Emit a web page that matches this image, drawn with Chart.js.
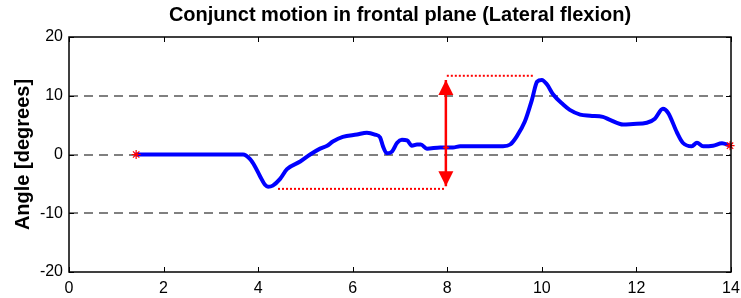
<!DOCTYPE html>
<html>
<head>
<meta charset="utf-8">
<script src="https://cdn.jsdelivr.net/npm/chart.js@4"></script>
<style>
  html, body { margin: 0; padding: 0; background: #fff; }
</style>
</head>
<body>
<canvas id="chart" width="741" height="298"></canvas>
<script>
// lateral flexion trace (time s, angle deg)
const timeS = [1.42, 2.35, 3.68, 3.83, 3.93, 4.04, 4.15, 4.21, 4.31, 4.46, 4.61, 4.89, 5.10, 5.31,
  5.46, 5.58, 5.79, 6.09, 6.30, 6.47, 6.58, 6.64, 6.72, 6.83, 6.94, 7.04, 7.15, 7.25, 7.36, 7.44,
  7.57, 7.85, 8.12, 8.27, 9.18, 9.33, 9.47, 9.64, 9.79, 9.90, 10.00, 10.11, 10.24, 10.45, 10.59,
  10.81, 11.02, 11.29, 11.44, 11.72, 11.93, 12.22, 12.39, 12.56, 12.67, 12.86, 12.98, 13.17,
  13.28, 13.41, 13.62, 13.81, 13.98];
const angleDeg = [0, 0, 0, -0.8, -2.0, -3.7, -5.2, -5.5, -5.3, -4.2, -2.5, -1.2, 0, 1.0,
  1.5, 2.2, 3.0, 3.4, 3.7, 3.4, 2.9, 1.4, 0.2, 0.5, 2.0, 2.5, 2.4, 1.5, 1.7, 1.7,
  1.0, 1.2, 1.2, 1.4, 1.4, 1.7, 3.1, 5.6, 9.3, 12.4, 12.7, 11.9, 10.2, 8.5, 7.6,
  6.8, 6.6, 6.4, 5.9, 5.1, 5.2, 5.4, 6.1, 7.8, 7.1, 3.7, 2.0, 1.4,
  2.0, 1.4, 1.5, 1.9, 1.5];

// markers: start / end stars, crossing plus
const starX = [1.42, 13.98];
const starY = [0, 1.5];
const plusX = [7.97];
const plusY = [1.2];

// range-of-motion arrow and its dotted guide lines
const arrowX = [7.97, 7.97];
const arrowY = [12.7, -5.4];
const topGuideX = [7.99, 9.81];
const topGuideY = [13.4, 13.4];
const lowGuideX = [4.42, 7.97];
const lowGuideY = [-5.85, -5.85];

const xTicks = [0, 2, 4, 6, 8, 10, 12, 14];
const yTicks = [-20, -10, 0, 10, 20];

const pts = (xs, ys) => xs.map((x, i) => ({ x: x, y: ys[i] }));
const FONT = "'Liberation Sans', Arial, Helvetica, sans-serif";

const frame = {
  id: "frame",
  afterDatasetsDraw(chart) {
    const { ctx, chartArea: a, scales } = chart;
    ctx.save();
    ctx.strokeStyle = "#000";
    ctx.lineWidth = 1.5;
    ctx.strokeRect(a.left, a.top, a.right - a.left, a.bottom - a.top);
    ctx.lineWidth = 1;
    ctx.beginPath();
    xTicks.forEach((v) => {
      const px = Math.round(scales.x.getPixelForValue(v)) + 0.5;
      ctx.moveTo(px, a.bottom); ctx.lineTo(px, a.bottom - 5);
      ctx.moveTo(px, a.top); ctx.lineTo(px, a.top + 5);
    });
    yTicks.forEach((v) => {
      const py = Math.round(scales.y.getPixelForValue(v)) + 0.5;
      ctx.moveTo(a.left, py); ctx.lineTo(a.left + 5, py);
      ctx.moveTo(a.right, py); ctx.lineTo(a.right - 5, py);
    });
    ctx.stroke();
    ctx.restore();
  },
};

const arrowHeads = {
  id: "arrowHeads",
  afterDatasetsDraw(chart) {
    const meta = chart.getDatasetMeta(2);
    if (!meta || meta.data.length < 2) return;
    const ctx = chart.ctx;
    const [p0, p1] = meta.data;
    const len = 15, half = 7.5;
    ctx.save();
    ctx.fillStyle = "#ff0000";
    [[p0, 1], [p1, -1]].forEach(([p, dir]) => {
      ctx.beginPath();
      ctx.moveTo(p.x, p.y);
      ctx.lineTo(p.x - half, p.y + dir * len);
      ctx.lineTo(p.x + half, p.y + dir * len);
      ctx.closePath();
      ctx.fill();
    });
    ctx.restore();
  },
};

new Chart(document.getElementById("chart").getContext("2d"), {
  type: "line",
  data: {
    datasets: [
      {
        label: "ends",
        data: pts(starX, starY),
        showLine: false,
        clip: false,
        pointStyle: "star",
        pointRadius: 4.5,
        pointBorderWidth: 1.2,
        pointBorderColor: "#ff0000",
        pointBackgroundColor: "#ff0000",
      },
      {
        label: "crossing",
        data: pts(plusX, plusY),
        showLine: false,
        pointStyle: "cross",
        pointRadius: 3,
        pointBorderWidth: 1.5,
        pointBorderColor: "#ff0000",
      },
      {
        label: "arrow",
        data: pts(arrowX, arrowY),
        borderColor: "#ff0000",
        borderWidth: 2.5,
        pointRadius: 0,
      },
      {
        label: "angle",
        data: pts(timeS, angleDeg),
        borderColor: "#0000ff",
        borderWidth: 4,
        pointRadius: 0,
        cubicInterpolationMode: "monotone",
        borderCapStyle: "round",
        borderJoinStyle: "round",
      },
      {
        label: "top guide",
        data: pts(topGuideX, topGuideY),
        borderColor: "#ff0000",
        borderWidth: 2,
        borderDash: [2, 2],
        pointRadius: 0,
      },
      {
        label: "low guide",
        data: pts(lowGuideX, lowGuideY),
        borderColor: "#ff0000",
        borderWidth: 2,
        borderDash: [2, 2],
        pointRadius: 0,
      },
    ],
  },
  options: {
    responsive: false,
    animation: false,
    devicePixelRatio: 1,
    layout: { padding: { left: 0, right: 10, top: 0, bottom: 0 } },
    plugins: {
      legend: { display: false },
      tooltip: { enabled: false },
      title: {
        display: true,
        text: "Conjunct motion in frontal plane (Lateral flexion)",
        color: "#000",
        fullSize: false,
        font: { family: FONT, size: 20, weight: "bold" },
        padding: { top: 3, bottom: 10 },
      },
    },
    scales: {
      x: {
        type: "linear",
        min: 0,
        max: 14,
        afterFit: (s) => { s.height = 26; s.paddingLeft = 0; s.paddingRight = 0; },
        afterBuildTicks: (s) => { s.ticks = xTicks.map((v) => ({ value: v })); },
        grid: { display: false, drawTicks: false },
        border: { display: false },
        ticks: { color: "#000", font: { family: FONT, size: 16 }, padding: 7, maxRotation: 0, autoSkip: false },
      },
      y: {
        type: "linear",
        min: -20,
        max: 20,
        afterFit: (s) => { s.width = 69; s.paddingTop = 0; s.paddingBottom = 0; },
        afterBuildTicks: (s) => { s.ticks = yTicks.map((v) => ({ value: v })); },
        grid: {
          drawTicks: false,
          lineWidth: 2,
          color: (c) => (c.tick && Math.abs(c.tick.value) === 20 ? "rgba(0,0,0,0)" : "#808080"),
        },
        border: { display: false, dash: [9, 6] },
        ticks: { color: "#000", font: { family: FONT, size: 16 }, padding: 6, autoSkip: false },
        title: {
          display: true,
          text: "Angle [degrees]",
          color: "#000",
          font: { family: FONT, size: 20, weight: "bold" },
          padding: { top: 11, bottom: 0 },
        },
      },
    },
  },
  plugins: [frame, arrowHeads],
});
</script>
</body>
</html>
